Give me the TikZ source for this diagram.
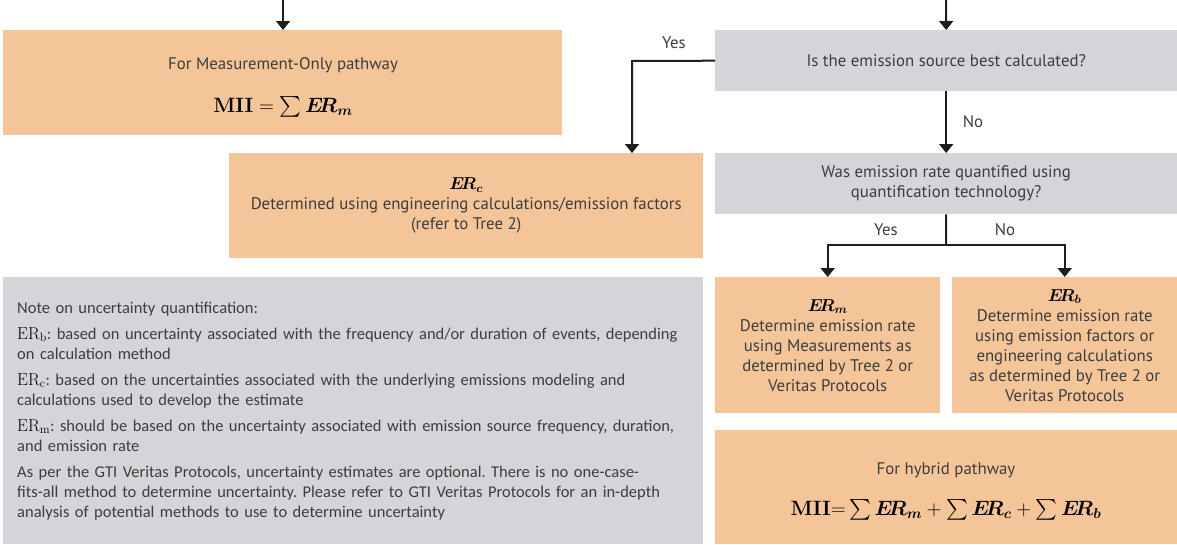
\documentclass[tikz,border=0pt]{standalone}
\usepackage{amsmath}
\usepackage[no-math]{fontspec}
\setmainfont{PT Sans}
\newfontfamily\notefont{Carlito}
\usetikzlibrary{arrows.meta}
\definecolor{boxorange}{HTML}{F5C59A}
\definecolor{boxgray}{HTML}{D4D5D9}
\definecolor{inkgray}{HTML}{3D3D3D}
\definecolor{linkink}{HTML}{1E1E1E}
\newcommand{\ERsub}[1]{$\boldsymbol{E\!R}_{\boldsymbol{#1}}$}
\newcommand{\ERnote}[1]{{\color{black}$\mathrm{ER}_{\mathrm{#1}}$}}
\frenchspacing
\begin{document}
\begin{tikzpicture}[x=1pt,y=-1pt,
  box/.style={anchor=north west, inner sep=0pt, draw=none, align=center,
    text=inkgray, font=\fontsize{16.8}{20}\selectfont},
  orangebox/.style={box, fill=boxorange},
  graybox/.style={box, fill=boxgray},
  boxtext/.style={anchor=base, inner sep=0pt, text=inkgray, font=\fontsize{16.8}{20}\selectfont},
  formula/.style={anchor=base, inner sep=0pt, text=black, font=\fontsize{20}{24}\selectfont},
  arr/.style={draw=linkink, line width=2pt, -{Triangle[width=14pt,length=9pt]}},
  plainline/.style={draw=linkink, line width=2pt},
  lbl/.style={text=inkgray, font=\fontsize{16.8}{20}\selectfont, inner sep=0pt}]
\useasboundingbox (0,0) rectangle (1177,544);

% measurement-only result
\node[orangebox, minimum width=559pt, minimum height=105pt] (mo) at (3,30) {};
\node[boxtext] (motitle) at (283,69) {For Measurement-Only pathway};
\node[formula, font=\fontsize{22}{26}\selectfont] (moeq) at (283,112)
  {$\mathbf{MII} = \sum \boldsymbol{E\!R}_{\boldsymbol{m}}$};

% decisions and estimates
\node[graybox, minimum width=462pt, minimum height=61pt] (q1) at (715,30)
  {Is the emission source best calculated?};
\node[orangebox, minimum width=474pt, minimum height=105pt] (erc) at (229,153)
  {{\color{black}\ERsub{c}}\\Determined using engineering calculations/emission factors\\(refer to Tree 2)};
\node[graybox, minimum width=462pt, minimum height=61pt] (q2) at (715,153)
  {Was emission rate quantified using\\quantification technology?};
\node[orangebox, minimum width=225pt, minimum height=136pt] (erm) at (715,277)
  {{\color{black}\ERsub{m}}\\Determine emission rate\\using Measurements as\\determined by Tree 2 or\\Veritas Protocols};
\node[orangebox, minimum width=225pt, minimum height=136pt] (erb) at (952,277)
  {{\color{black}\ERsub{b}}\\Determine emission rate\\using emission factors or\\engineering calculations\\as determined by Tree 2 or\\Veritas Protocols};

% hybrid result
\node[orangebox, minimum width=462pt, minimum height=114pt] (hyb) at (715,430) {};
\node[boxtext] (hybtitle) at (946,474) {For hybrid pathway};
\node[formula] (hybeq) at (946,515)
  {$\mathbf{MII}{=}\sum \boldsymbol{E\!R}_{\boldsymbol{m}} + \sum \boldsymbol{E\!R}_{\boldsymbol{c}} + \sum \boldsymbol{E\!R}_{\boldsymbol{b}}$};

% uncertainty note
\node[graybox, minimum width=700pt, minimum height=267pt, align=left,
  text width=672pt, inner xsep=14pt, font=\notefont\fontsize{16.5}{20}\selectfont] (note) at (3,277)
  {Note on uncertainty quantification:\\[6pt]
   \ERnote{b}: based on uncertainty associated with the frequency and/or duration of events, depending\\on calculation method\\[6pt]
   \ERnote{c}: based on the uncertainties associated with the underlying emissions modeling and\\calculations used to develop the estimate\\[6pt]
   \ERnote{m}: should be based on the uncertainty associated with emission source frequency, duration,\\and emission rate\\[6pt]
   As per the GTI Veritas Protocols, uncertainty estimates are optional. There is no one-case-\\fits-all method to determine uncertainty. Please refer to GTI Veritas Protocols for an in-depth\\analysis of potential methods to use to determine uncertainty};

% incoming connectors from above
\coordinate (inL) at (283,0);
\coordinate (inR) at (946,0);
\draw[arr] (inL) -- (inL |- mo.north);
\draw[arr] (inR) -- (q1.north);

% decision 1
\coordinate (yesturn) at (632,61);
\draw[arr] (q1.west) -- (yesturn) -- (yesturn |- erc.north);
\draw[arr] (q1.south) -- (q2.north);
\node[lbl] (yes1) at (674,43) {Yes};
\node[lbl] (no1) at (973,122) {No};

% decision 2
\coordinate (split) at (946,245);
\draw[plainline] (q2.south) -- (split);
\draw[arr] (split) -| (erm.north);
\draw[arr] (split) -| (erb.north);
\node[lbl] (yes2) at (886,230) {Yes};
\node[lbl] (no2) at (1005,230) {No};
\end{tikzpicture}
\end{document}
